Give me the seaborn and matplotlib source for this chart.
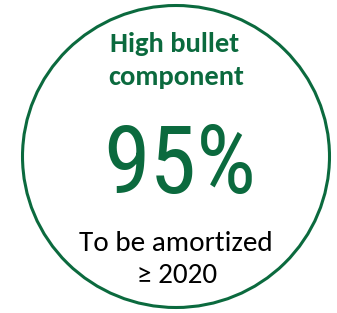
import seaborn as sns
import matplotlib.pyplot as plt
from matplotlib.patches import Ellipse

# text content
headline = ["High bullet", "component"]
share_value = 95
footnote = ["To be amortized", "\u2265 2020"]

green = "#0b6a3e"

sns.set_theme(style="white")
plt.rcParams['font.family'] = ['Carlito', 'DejaVu Sans']

fig = plt.figure(figsize=(3.37, 3.13), dpi=100)
ax = fig.add_axes([0, 0, 1, 1])
ax.set_xlim(0, 337)
ax.set_ylim(313, 0)
ax.axis('off')

ax.add_patch(Ellipse((176, 156.5), 307, 302, fill=False, edgecolor=green, linewidth=2.2))

ax.text(175, 52, headline[0], ha='center', va='baseline', fontsize=20.5,
        fontweight='bold', color=green)
ax.text(176, 85, headline[1], ha='center', va='baseline', fontsize=20.5,
        fontweight='bold', color=green)
ax.text(180, 193, f"{share_value}%", ha='center', va='baseline', fontsize=68,
        color=green, family=['Roboto Condensed', 'DejaVu Sans'], fontweight='normal')
ax.text(176, 251, footnote[0], ha='center', va='baseline', fontsize=21, color='black')
ax.text(177, 283, footnote[1], ha='center', va='baseline', fontsize=21, color='black')

fig.savefig('out.png', dpi=100, facecolor='white')
